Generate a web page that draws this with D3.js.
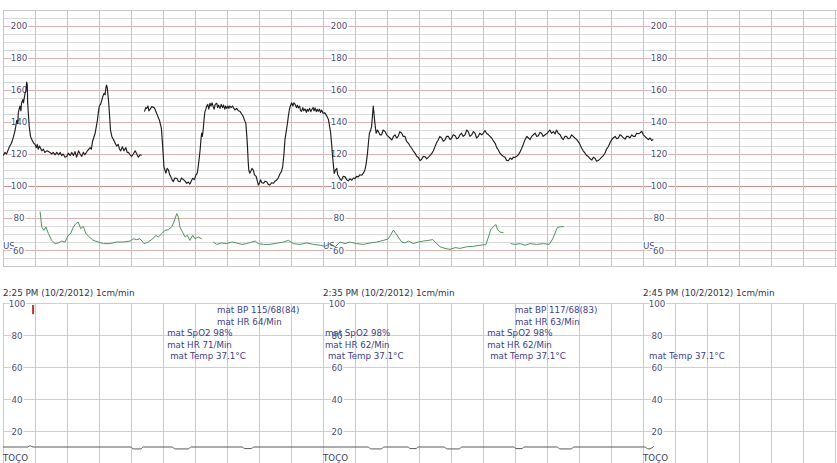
<!DOCTYPE html>
<html><head><meta charset="utf-8">
<script src="https://cdn.jsdelivr.net/npm/d3@7"></script>
<style>
body{margin:0;background:#fff}
svg{display:block;font-family:"DejaVu Sans",Verdana,sans-serif}
</style>
</head><body>
<svg id="chart" width="837" height="463"></svg>
<script>
// ---------------- DATA ----------------
// time in minutes since 2:25 PM, values in bpm / TOCO units
const sectionStarts = ["2:25 PM", "2:35 PM", "2:45 PM"];
const stripDate = "(10/2/2012)";
const paperSpeed = "1cm/min";
const fhrTicks = [200, 180, 160, 140, 120, 100, 80, 60];
const tocoTicks = [100, 80, 60, 40, 20];

const fhrSegment1 = [[0.01,119],[0.06,121],[0.11,120],[0.19,124],[0.27,127],[0.33,131],[0.38,135],[0.43,141],[0.46,139],[0.48,146],[0.53,150],[0.56,147],[0.58,152],[0.62,154],[0.64,152],[0.69,158],[0.72,160],[0.74,165],[0.76,163],[0.77,152],[0.82,137],[0.86,131],[0.90,129],[0.95,127],[1.00,126],[1.04,124],[1.07,126],[1.10,123],[1.14,125],[1.21,122],[1.26,123],[1.31,121],[1.38,122],[1.47,121],[1.52,120],[1.57,121],[1.63,119.5],[1.68,121],[1.74,119.5],[1.79,121],[1.83,119],[1.88,120],[1.94,118],[1.99,118.5],[2.04,120.5],[2.10,119],[2.15,121],[2.20,119],[2.25,121.5],[2.30,118],[2.36,122],[2.41,120],[2.46,118.5],[2.51,121],[2.56,119.5],[2.64,122],[2.72,124],[2.76,123],[2.80,128],[2.88,133],[2.95,141],[2.98,146],[3.01,150],[3.05,151],[3.08,153],[3.12,156],[3.16,158],[3.19,157],[3.22,162],[3.24,163],[3.26,161],[3.29,155],[3.31,150],[3.36,135],[3.40,131],[3.45,129],[3.50,127],[3.55,125],[3.60,126],[3.64,123],[3.68,122],[3.73,124.5],[3.78,122],[3.84,124],[3.88,121],[3.92,121],[3.97,119.5],[4.02,118.5],[4.07,120],[4.13,122],[4.18,120],[4.23,118],[4.28,119.5],[4.33,119]];

const fhrSegment2 = [[4.42,146.5],[4.46,149],[4.49,148.5],[4.53,150],[4.56,147],[4.60,148],[4.65,149.6],[4.72,149],[4.76,147.5],[4.80,145.4],[4.85,143],[4.89,141],[4.95,136],[4.99,124.6],[5.03,112],[5.06,110],[5.09,108],[5.13,111],[5.17,110],[5.21,107],[5.24,106],[5.28,104],[5.32,102.7],[5.37,105],[5.43,104.8],[5.48,103],[5.53,102.7],[5.58,105],[5.64,104],[5.69,103],[5.74,101.7],[5.79,102.5],[5.84,101.2],[5.88,103],[5.93,104.8],[5.98,104],[6.03,106.9],[6.07,108],[6.10,112],[6.13,117],[6.16,122.5],[6.19,130],[6.21,133],[6.23,131],[6.26,136],[6.28,141],[6.31,146.5],[6.34,148],[6.36,149.6],[6.40,151],[6.43,148],[6.47,151.7],[6.50,150],[6.53,152],[6.57,149.6],[6.60,148],[6.63,151],[6.68,151.7],[6.71,149],[6.74,150.5],[6.78,148.5],[6.82,151],[6.86,149],[6.89,150.6],[6.93,148],[6.96,150],[6.99,148.5],[7.03,150],[7.06,148.5],[7.09,150],[7.13,149],[7.17,150],[7.20,149],[7.25,147.5],[7.30,148.5],[7.36,147],[7.41,146.5],[7.46,145],[7.51,143.3],[7.55,141],[7.59,139],[7.62,131],[7.64,124.6],[7.66,116],[7.68,110],[7.71,108],[7.74,109],[7.78,111],[7.82,110],[7.86,107],[7.91,106],[7.95,103],[7.98,100.6],[8.02,102],[8.05,103.8],[8.09,102],[8.14,101.7],[8.19,103],[8.24,102.7],[8.29,101],[8.34,100.6],[8.39,102],[8.45,101.7],[8.50,103],[8.55,103.7],[8.60,105],[8.66,107.8],[8.70,109],[8.74,112],[8.78,120],[8.81,128.8],[8.85,134],[8.89,139.4],[8.92,144],[8.95,147.8],[8.98,150],[9.02,152],[9.06,150],[9.09,152],[9.13,151],[9.17,149],[9.20,150.5],[9.23,148.8],[9.27,150],[9.30,147],[9.33,146.7],[9.37,149],[9.40,147],[9.44,148.2],[9.48,146],[9.51,148],[9.54,146.7],[9.58,148.5],[9.62,146.5],[9.65,147.8],[9.69,149],[9.72,147],[9.75,148.8],[9.79,146.5],[9.82,148],[9.85,146.7],[9.89,148],[9.92,146],[9.96,147.4],[10.00,145.5],[10.06,145.7],[10.11,144],[10.17,141.5],[10.20,138],[10.24,133],[10.27,126],[10.30,118.3],[10.33,112],[10.35,107.8],[10.39,110],[10.43,111],[10.46,107],[10.50,105.7],[10.54,104],[10.58,103.6],[10.63,106],[10.69,105.7],[10.74,104],[10.79,103.2],[10.84,104.5],[10.90,103.6],[10.95,105],[11.00,104.6],[11.05,106],[11.10,105.7],[11.15,107],[11.21,106.7],[11.26,108],[11.31,110],[11.35,114],[11.39,120.4],[11.42,127],[11.45,133],[11.49,135],[11.52,137.3],[11.55,145],[11.57,150],[11.59,146],[11.61,141.5],[11.64,136],[11.66,133],[11.70,135],[11.73,134],[11.78,132],[11.83,132],[11.88,135],[11.94,134],[11.99,132],[12.04,131],[12.09,130],[12.15,128.8],[12.20,131],[12.25,132],[12.30,130],[12.35,131],[12.40,134],[12.46,133],[12.51,131],[12.56,131],[12.61,128],[12.67,126.7],[12.72,125],[12.77,123.6],[12.82,122],[12.88,120.4],[12.93,118.5],[12.98,117.9],[13.03,116],[13.08,116.6],[13.13,118.5],[13.19,118.3],[13.24,117],[13.29,117.9],[13.34,119],[13.40,120.4],[13.45,122],[13.50,124.6],[13.55,127],[13.60,128.8],[13.65,131],[13.71,130],[13.76,128],[13.81,128.8],[13.86,131],[13.92,131],[13.97,129],[14.02,130],[14.07,132],[14.13,131.4],[14.18,129.5],[14.23,130],[14.28,132],[14.33,133],[14.38,131],[14.44,132],[14.49,135],[14.54,134],[14.59,131],[14.65,132],[14.70,134],[14.75,133],[14.80,130],[14.85,131],[14.90,133],[14.96,132],[15.01,133],[15.06,134.7],[15.11,133],[15.17,132],[15.22,131],[15.27,130],[15.33,128],[15.38,126.7],[15.43,124],[15.48,122.5],[15.53,120.5],[15.58,119.4],[15.64,118.5],[15.69,117.9],[15.74,116],[15.79,115.8],[15.85,117.5],[15.90,116.6],[15.95,118],[16.00,117.9],[16.05,118.5],[16.10,119.4],[16.15,121],[16.21,123.6],[16.26,126],[16.31,128.8],[16.37,131],[16.42,130],[16.47,129],[16.52,131],[16.57,132],[16.63,133],[16.68,131],[16.73,131.4],[16.78,133.5],[16.83,133],[16.88,131],[16.94,132],[17.01,133],[17.09,135],[17.14,133],[17.20,134],[17.25,132.5],[17.30,135],[17.35,133],[17.41,132],[17.46,130],[17.51,129],[17.56,131],[17.61,131],[17.66,129.5],[17.72,130],[17.77,132],[17.82,131],[17.87,130],[17.93,129],[18.01,126.8],[18.08,123.7],[18.13,122],[18.19,120.5],[18.24,119],[18.29,118.4],[18.35,117],[18.40,116.3],[18.45,118],[18.50,117.4],[18.55,115.5],[18.60,115.9],[18.66,117],[18.71,118],[18.76,119],[18.81,120.5],[18.86,123],[18.92,124.7],[18.97,127],[19.02,128.9],[19.07,130],[19.13,131],[19.18,129.5],[19.23,130],[19.28,132],[19.33,131.4],[19.39,130],[19.44,129.3],[19.49,131],[19.54,131],[19.59,130],[19.65,132],[19.70,131],[19.75,131],[19.80,133],[19.85,132.7],[19.90,133],[19.96,134.2],[20.01,132],[20.06,131],[20.11,130],[20.17,129],[20.22,130],[20.27,128.5],[20.32,129]];

const mhrSegment1 = [[1.16,84],[1.21,74.4],[1.28,72.3],[1.34,74.4],[1.42,70.2],[1.52,66],[1.63,64],[1.73,64.4],[1.83,65.6],[1.94,65],[2.04,69.2],[2.11,70.2],[2.20,74.4],[2.28,76.5],[2.35,77.5],[2.43,73.3],[2.51,74.8],[2.59,70.2],[2.70,68.1],[2.82,66],[2.98,65],[3.14,64],[3.34,64],[3.55,65],[3.76,65],[3.97,65.6],[4.07,67],[4.18,66.5],[4.28,67],[4.41,64],[4.54,65],[4.68,67],[4.78,69.2],[4.85,68.1],[4.96,70.2],[5.06,72.3],[5.17,72.7],[5.27,74.4],[5.34,77.5],[5.43,82.7],[5.48,80.6],[5.53,74.4],[5.61,71.2],[5.69,68.1],[5.76,69.2],[5.84,66],[5.93,69.2],[6.00,67],[6.10,68.1],[6.21,67]];
const mhrSegment2 = [[6.57,65],[6.68,63.5],[6.83,64.4],[6.99,64],[7.15,65],[7.30,64.4],[7.46,63.5],[7.61,64],[7.77,65],[7.88,65.6],[7.98,64],[8.14,63.5],[8.34,63.5],[8.55,64.2],[8.76,65],[8.92,66],[9.07,64],[9.28,63.5],[9.49,64.4],[9.70,63.5],[9.91,63],[10.06,62.3],[10.22,64],[10.38,62],[10.53,65],[10.69,64],[10.84,65],[11.05,64],[11.26,63.5],[11.47,64.4],[11.68,65],[11.89,66],[12.04,67],[12.11,69.2],[12.20,72.5],[12.28,70.2],[12.35,68.1],[12.46,65],[12.56,64.4],[12.67,65.6],[12.82,64],[12.98,65],[13.14,65.6],[13.29,66],[13.43,66.5],[13.50,65],[13.66,62],[13.81,61],[13.97,60.4],[14.13,61.5],[14.28,61],[14.49,62],[14.70,62.3],[14.91,63],[15.09,63.3],[15.17,68.1],[15.24,72.7],[15.32,74.4],[15.40,76],[15.46,72.7],[15.53,71.2],[15.64,70.8]];
const mhrSegment3 = [[15.86,64],[16.00,63.5],[16.16,64],[16.31,63],[16.47,64],[16.68,63.5],[16.89,64],[17.07,63.5],[17.18,67],[17.25,70.5],[17.32,74],[17.41,74.5],[17.53,74.6]];

const tocoTrace = [[0,10],[0.78,10],[0.84,10.8],[0.94,10],[4.0,10],[4.06,8.8],[4.31,8.8],[4.38,10],[5.28,10],[5.38,8.8],[5.78,8.8],[5.88,10],[7.47,10],[7.56,9],[7.75,9],[7.84,10],[11.41,10],[11.5,8.8],[11.81,8.8],[11.91,10],[12.66,10],[12.72,9],[12.91,9],[12.97,10],[13.78,10],[13.88,8.8],[14.25,8.8],[14.34,10],[15.97,10],[16.03,9],[16.22,9],[16.28,10],[17.31,10],[17.41,8.8],[17.75,8.8],[17.84,10],[20.06,10],[20.16,8.8],[20.28,9.5],[20.34,10.5]];

const eventMarkMinutes = [0.94];
const noteMinutes = [6.69, 5.13, 10.06, 16.0, 15.13, 20.19];
const noteFirstRow = [0, 2, 2, 0, 2, 4];
const noteTexts = [
  ["mat BP 115/68(84)", "mat HR 64/Min"],
  ["mat SpO2 98%", "mat HR 71/Min", " mat Temp 37.1°C"],
  ["mat SpO2 98%", "mat HR 62/Min", " mat Temp 37.1°C"],
  ["mat BP 117/68(83)", "mat HR 63/Min"],
  ["mat SpO2 98%", "mat HR 62/Min", " mat Temp 37.1°C"],
  ["mat Temp 37.1°C"]
];

// ---------------- DRAWING ----------------
const W = 837, H = 463;
const svg = d3.select("#chart");
const x = d3.scaleLinear().domain([0, 26]).range([3, 835]);          // 32 px per minute (1 cm/min)
const yF = d3.scaleLinear().domain([50, 210]).range([266, 10]);      // FHR panel
const yT = d3.scaleLinear().domain([0, 100]).range([463, 303]);      // TOCO panel
const crisp = v => Math.round(v) + 0.5;

const grid = svg.append("g").attr("shape-rendering", "crispEdges");
// FHR horizontal lines every 5 bpm
d3.range(50, 211, 5).forEach(v => {
  let col = "#dadada";
  if (v % 20 === 0 && v >= 60 && v <= 200) col = "#d9b4b4";
  if (v === 100) col = "#d08c8c";
  if (v === 50 || v === 210) col = "#c8c8c8";
  grid.append("line").attr("x1", x(0)).attr("x2", W)
    .attr("y1", crisp(yF(v))).attr("y2", crisp(yF(v))).attr("stroke", col);
});
// TOCO horizontal lines every 20
tocoTicks.forEach(v => {
  grid.append("line").attr("x1", x(0)).attr("x2", W)
    .attr("y1", crisp(yT(v))).attr("y2", crisp(yT(v))).attr("stroke", "#cfcfcf");
});
// vertical minute lines
d3.range(0, 27, 1).forEach(m => {
  grid.append("line").attr("x1", crisp(x(m))).attr("x2", crisp(x(m)))
    .attr("y1", yF(210)).attr("y2", yF(50)).attr("stroke", "#c4c4c4");
  grid.append("line").attr("x1", crisp(x(m))).attr("x2", crisp(x(m)))
    .attr("y1", yT(100)).attr("y2", H).attr("stroke", "#cbcbcb");
});

const labelCol = "#4e4f78";
const halo = sel => sel.attr("stroke", "#fff").attr("stroke-width", 3).attr("paint-order", "stroke").attr("stroke-linejoin", "round");

[0, 10, 20].forEach((m, i) => {
  const x0 = x(m);
  // FHR scale labels
  fhrTicks.forEach(v => {
    if (v === 60) {
      svg.append("text").attr("x", x0).attr("y", yF(v) - 4).attr("dominant-baseline", "central")
        .attr("font-size", 8.7).attr("fill", labelCol).text("US").call(halo);
      svg.append("text").attr("x", x0 + 15.5).attr("y", yF(v) + 1).attr("text-anchor", "middle")
        .attr("dominant-baseline", "central").attr("font-size", 8.7).attr("fill", labelCol).text(v).call(halo);
    } else {
      svg.append("text").attr("x", x0 + 16).attr("y", yF(v)).attr("text-anchor", "middle")
        .attr("dominant-baseline", "central").attr("font-size", 8.7).attr("fill", labelCol).text(v).call(halo);
    }
  });
  // TOCO scale labels
  tocoTicks.forEach(v => {
    svg.append("text").attr("x", x0 + 14).attr("y", yT(v) + 0.5).attr("text-anchor", "middle")
      .attr("dominant-baseline", "central").attr("font-size", 8.7).attr("fill", labelCol).text(v).call(halo);
  });
  // section header
  svg.append("text").attr("x", x0).attr("y", 293).attr("dominant-baseline", "central")
    .attr("font-size", 8.8).attr("fill", "#34344a")
    .text(sectionStarts[i] + " " + stripDate + " " + paperSpeed);
  // TOCO label
  svg.append("text").attr("x", x0).attr("y", 457.5).attr("dominant-baseline", "central")
    .attr("font-size", 8.7).attr("fill", "#3c3c50").text("TOÇO");
});

// traces
const lineF = d3.line().x(d => x(d[0])).y(d => yF(d[1]));
const lineT = d3.line().x(d => x(d[0])).y(d => yT(d[1])).curve(d3.curveMonotoneX);

[mhrSegment1, mhrSegment2, mhrSegment3].forEach(seg => {
  svg.append("path").datum(seg).attr("d", lineF).attr("fill", "none")
    .attr("stroke", "#4f9460").attr("stroke-width", 1).attr("stroke-linejoin", "round");
});
[fhrSegment1, fhrSegment2].forEach(seg => {
  svg.append("path").datum(seg).attr("d", lineF).attr("fill", "none")
    .attr("stroke", "#1e1e1e").attr("stroke-width", 1.15).attr("stroke-linejoin", "round");
});
svg.append("path").datum(tocoTrace).attr("d", lineT).attr("fill", "none")
  .attr("stroke", "#5a5a5a").attr("stroke-width", 1);

// event mark
eventMarkMinutes.forEach(m => {
  svg.append("line").attr("x1", x(m)).attr("x2", x(m)).attr("y1", yT(98.8)).attr("y2", yT(93))
    .attr("stroke", "#b8383a").attr("stroke-width", 2);
});

// annotations
const rowY = r => 310 + r * 11.5;
noteMinutes.forEach((m, i) => {
  noteTexts[i].forEach((t, j) => {
    const lead = t.startsWith(" ");
    svg.append("text").attr("x", x(m) + (lead ? 3 : 0)).attr("y", rowY(noteFirstRow[i] + j))
      .attr("dominant-baseline", "central").attr("font-size", 8.7).attr("fill", "#3d3d86")
      .text(t.trim());
  });
});
</script>
</body></html>
